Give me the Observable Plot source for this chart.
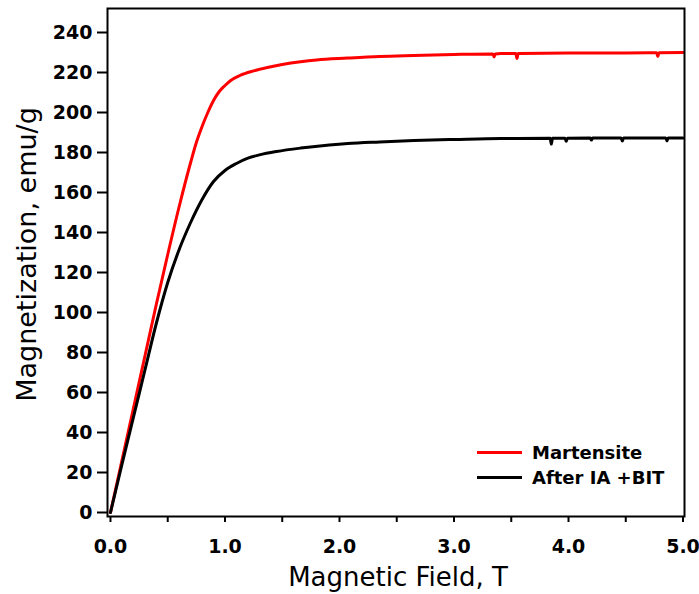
<!DOCTYPE html>
<html>
<head>
<meta charset="utf-8">
<script src="https://cdn.jsdelivr.net/npm/d3@7"></script>
<script src="https://cdn.jsdelivr.net/npm/@observablehq/plot@0.6"></script>
<style>
  html, body { margin: 0; padding: 0; background: #fff; }
  #wrap { position: relative; width: 699px; height: 594px; }
  #legend { position: absolute; left: 477px; top: 440px; font-family: "DejaVu Sans", sans-serif; font-weight: bold; font-size: 18px; color: #000; }
  .row { display: flex; align-items: center; height: 25px; }
  .sw { width: 45px; height: 3px; margin-right: 10px; }
</style>
</head>
<body>
<div id="wrap"></div>
<script>
const seriesNames = ["Martensite", "After IA +BIT"];
const seriesColors = ["#ff0000", "#000000"];

const fieldMart = [0, 0.1, 0.2, 0.3, 0.4, 0.5, 0.6, 0.7, 0.75, 0.8, 0.85, 0.9, 0.95, 1.0, 1.05, 1.13, 1.25, 1.37, 1.5, 1.66, 1.8, 2.07, 2.35, 2.65, 3.0, 3.34, 3.35, 3.36, 3.41, 3.54, 3.55, 3.56, 4.0, 4.5, 4.77, 4.78, 4.79, 5.0];
const magMart   = [0, 26, 52, 78, 104, 129, 153, 175, 185, 193, 200, 206, 210.5, 213.5, 216, 218.5, 220.8, 222.5, 224.0, 225.4, 226.3, 227.2, 228, 228.5, 229, 229.3, 227.8, 229.3, 229.5, 229.5, 227, 229.5, 229.7, 229.8, 229.9, 228, 229.9, 230];

const fieldBIT = [0, 0.1, 0.2, 0.3, 0.4, 0.5, 0.6, 0.7, 0.8, 0.9, 1.0, 1.1, 1.2, 1.3, 1.45, 1.66, 1.85, 2.07, 2.35, 2.65, 3.0, 3.41, 3.84, 3.85, 3.86, 3.97, 3.98, 3.99, 4.19, 4.2, 4.21, 4.46, 4.47, 4.48, 4.85, 4.86, 4.87, 5.0];
const magBIT   = [0, 24, 47.5, 71, 94.5, 115, 131.5, 145, 156.5, 165.5, 171, 174.5, 177.2, 178.8, 180.5, 182.2, 183.4, 184.5, 185.3, 186, 186.5, 187, 187.1, 184.2, 187.1, 187.1, 185.6, 187.1, 187.2, 186.2, 187.2, 187.2, 185.8, 187.2, 187.3, 185.8, 187.3, 187.3];

const xTicks = [0, 1, 2, 3, 4, 5];
const xMinorTicks = [0.5, 1.5, 2.5, 3.5, 4.5];
const yTicks = [0, 20, 40, 60, 80, 100, 120, 140, 160, 180, 200, 220, 240];
const xTitle = "Magnetic Field, T";
const yTitle = "Magnetization, emu/g";

const data = [
  ...fieldMart.map((x, i) => ({x, y: magMart[i], s: seriesNames[0]})),
  ...fieldBIT.map((x, i) => ({x, y: magBIT[i], s: seriesNames[1]}))
];

const chart = Plot.plot({
  width: 699,
  height: 594,
  marginLeft: 107,
  marginRight: 15,
  marginTop: 8,
  marginBottom: 78,
  style: {fontFamily: "DejaVu Sans, sans-serif", background: "#fff", color: "#000"},
  x: {domain: [-0.026, 5.013]},
  y: {domain: [-2, 252]},
  color: {domain: seriesNames, range: seriesColors},
  marks: [
    Plot.line(data, {x: "x", y: "y", z: "s", stroke: "s", strokeWidth: 3, curve: "monotone-x"}),
    Plot.frame({stroke: "#000", strokeWidth: 2}),
    Plot.axisY({ticks: yTicks, tickSize: 10, tickPadding: 5, tickFormat: d => String(d), fontSize: 19, fontWeight: "bold", strokeWidth: 2, label: null}),
    Plot.axisX({ticks: xTicks, tickSize: 6, tickPadding: 17, tickFormat: d => d.toFixed(1), fontSize: 19, fontWeight: "bold", strokeWidth: 2, label: null}),
    Plot.axisX({ticks: xMinorTicks, tickSize: 6, tickFormat: () => "", strokeWidth: 2, label: null}),
    Plot.text([xTitle], {frameAnchor: "bottom", lineAnchor: "middle", textAnchor: "middle", dy: 61, dx: 2, fontSize: 26, text: d => d}),
    Plot.text([yTitle], {frameAnchor: "left", lineAnchor: "middle", textAnchor: "middle", rotate: -90, dx: -80, dy: -8, fontSize: 27, text: d => d})
  ]
});

const wrap = document.getElementById("wrap");
wrap.appendChild(chart);

const legend = document.createElement("div");
legend.id = "legend";
seriesNames.forEach((name, i) => {
  const row = document.createElement("div");
  row.className = "row";
  const sw = document.createElement("div");
  sw.className = "sw";
  sw.style.background = seriesColors[i];
  const lab = document.createElement("span");
  lab.textContent = name;
  row.appendChild(sw);
  row.appendChild(lab);
  legend.appendChild(row);
});
wrap.appendChild(legend);
</script>
</body>
</html>
